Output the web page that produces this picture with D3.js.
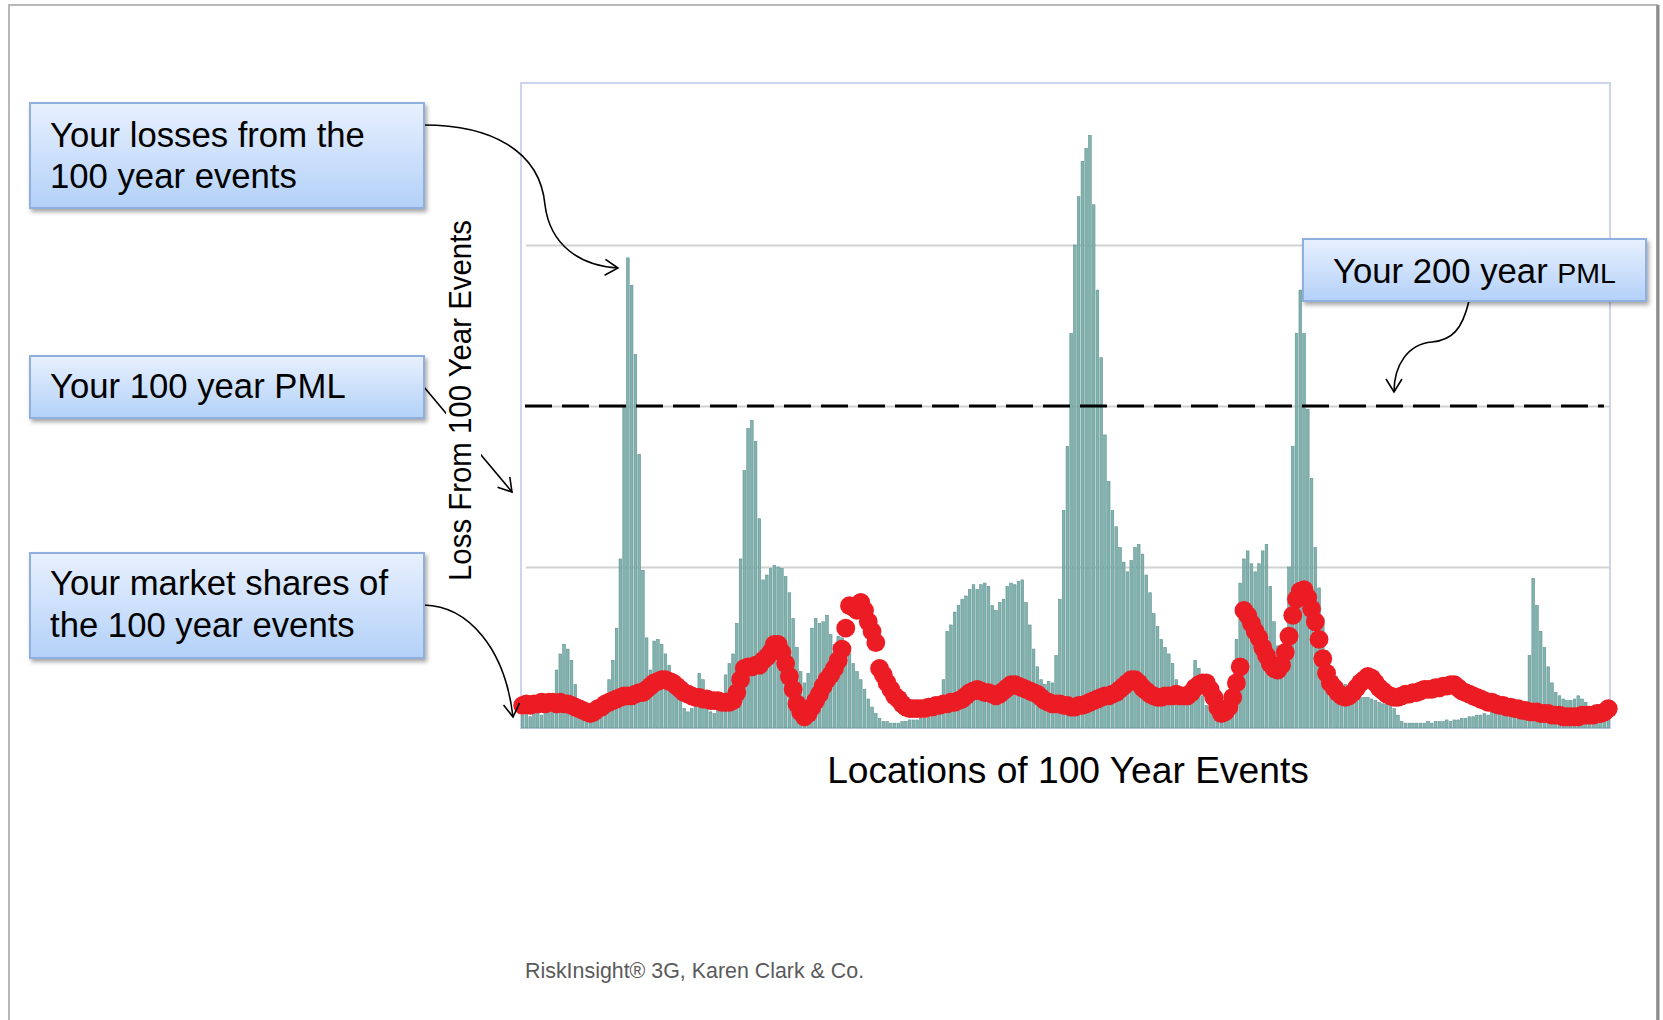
<!DOCTYPE html>
<html>
<head>
<meta charset="utf-8">
<script src="https://cdn.jsdelivr.net/npm/d3@7"></script>
<style>
  html, body { margin: 0; padding: 0; background: #ffffff; }
  svg { display: block; font-family: "Liberation Sans", Arial, sans-serif; }
</style>
</head>
<body>
<svg id="chart" width="1663" height="1020"></svg>
<script>
// Loss from each 100 year event, one value per event location (west to east)
const eventLoss = [
  0.08,0.10,0.07,0.09,0.11,0.08,0.10,0.12,0.15,
  0.36,0.46,0.52,0.49,0.42,0.27,0.16,
  0.08,0.07,0.06,0.08,0.10,0.12,0.15,
  0.30,0.42,0.62,1.05,2.00,2.92,2.75,2.32,1.70,0.98,0.56,
  0.36,0.54,0.55,0.52,0.46,0.39,0.34,0.27,0.18,0.12,0.10,0.12,0.20,0.34,0.30,0.12,
  0.10,0.09,0.12,0.18,
  0.33,0.40,0.46,0.65,1.05,1.60,1.86,1.91,1.78,1.30,0.92,0.95,
  0.99,1.01,1.00,0.99,0.94,0.84,0.68,0.50,0.35,0.28,0.34,
  0.62,0.68,0.65,0.66,0.70,0.58,0.52,0.57,0.56,0.52,0.46,0.40,0.35,0.30,0.24,0.18,0.13,0.09,0.06,
  0.04,0.04,0.03,0.03,0.03,0.04,0.04,0.05,0.05,0.05,0.06,0.06,0.07,0.07,0.08,0.10,
  0.30,0.60,0.64,0.72,0.76,0.80,0.82,0.86,0.89,0.86,0.89,0.90,0.88,0.76,0.73,0.78,0.80,
  0.88,0.90,0.89,0.91,0.92,0.78,0.64,0.49,0.38,0.30,0.27,0.29,0.28,0.45,0.80,1.35,
  1.75,2.45,3.00,3.30,3.52,3.60,3.68,3.25,2.72,2.30,1.82,1.53,1.35,1.25,1.12,1.03,0.97,
  1.04,1.12,1.14,1.08,0.95,0.84,0.71,0.63,0.55,0.50,0.46,0.40,0.30,0.23,0.20,0.22,0.20,
  0.42,0.37,0.20,0.14,0.12,0.10,0.10,0.09,0.10,0.12,0.20,0.55,0.90,1.05,1.10,
  1.02,0.97,1.02,1.10,1.14,0.88,0.66,0.51,0.47,0.62,1.00,1.75,2.45,2.72,2.45,1.98,1.55,
  1.12,0.87,0.68,0.48,0.36,0.32,0.30,0.28,0.27,0.24,0.23,0.21,0.19,0.19,0.19,0.18,0.17,
  0.16,0.15,0.15,0.14,0.12,0.08,0.04,
  0.03,0.03,0.03,0.03,0.03,0.03,0.04,0.03,0.04,0.04,0.04,0.05,0.04,0.05,0.05,0.06,
  0.06,0.07,0.07,0.08,0.08,0.09,0.08,0.10,0.09,0.10,0.11,0.10,0.11,0.12,0.11,0.12,
  0.14,0.45,0.93,0.76,0.60,0.50,0.38,0.28,0.22,0.20,0.18,0.17,0.17,0.18,0.20,0.18,
  0.16,0.12,0.11,0.10,0.10,0.10,0.09
];

// Company market share of each 100 year event, same locations, drawn on the loss scale
const marketShare = [
  0.14,0.15,0.14,0.15,0.15,0.16,0.15,0.16,0.16,0.15,
  0.16,0.15,0.15,0.14,0.13,0.12,0.11,0.10,0.09,0.10,
  0.12,0.13,0.15,0.16,0.17,0.18,0.19,0.20,0.20,0.20,
  0.21,0.22,0.22,0.24,0.26,0.28,0.29,0.30,0.30,0.29,
  0.28,0.26,0.24,0.22,0.21,0.20,0.19,0.19,0.18,0.18,
  0.17,0.17,0.17,0.16,0.16,0.16,0.17,0.22,0.30,0.37,
  0.38,0.38,0.39,0.39,0.42,0.44,0.47,0.52,0.52,0.47,
  0.40,0.32,0.24,0.15,0.10,0.07,0.09,0.13,0.17,0.21,
  0.26,0.30,0.33,0.37,0.42,0.49,0.62,0.76,0.75,0.73,
  0.78,0.73,0.66,0.60,0.53,0.37,0.33,0.28,0.24,0.20,
  0.18,0.15,0.13,0.12,0.12,0.12,0.12,0.12,0.13,0.13,
  0.14,0.14,0.15,0.15,0.16,0.16,0.17,0.18,0.20,0.22,
  0.23,0.24,0.23,0.22,0.22,0.21,0.20,0.21,0.23,0.25,
  0.27,0.27,0.26,0.25,0.24,0.23,0.22,0.21,0.19,0.17,
  0.16,0.15,0.15,0.15,0.14,0.14,0.13,0.13,0.14,0.14,
  0.15,0.16,0.17,0.18,0.19,0.20,0.20,0.21,0.22,0.24,
  0.26,0.28,0.30,0.30,0.28,0.25,0.23,0.21,0.20,0.19,
  0.19,0.20,0.20,0.20,0.21,0.20,0.20,0.20,0.22,0.25,
  0.27,0.28,0.28,0.24,0.19,0.13,0.09,0.10,0.13,0.19,
  0.28,0.38,0.73,0.70,0.65,0.60,0.56,0.50,0.45,0.40,
  0.37,0.36,0.39,0.47,0.57,0.70,0.80,0.85,0.86,0.81,
  0.74,0.66,0.55,0.43,0.34,0.28,0.25,0.22,0.20,0.19,
  0.20,0.22,0.25,0.28,0.30,0.32,0.31,0.28,0.25,0.23,
  0.21,0.20,0.19,0.19,0.20,0.21,0.21,0.22,0.22,0.23,
  0.24,0.24,0.24,0.25,0.25,0.26,0.26,0.27,0.27,0.25,
  0.23,0.22,0.21,0.20,0.19,0.18,0.17,0.16,0.16,0.15,
  0.14,0.14,0.13,0.13,0.12,0.12,0.11,0.11,0.10,0.10,
  0.10,0.09,0.09,0.09,0.08,0.08,0.08,0.07,0.07,0.07,
  0.07,0.07,0.08,0.08,0.08,0.08,0.09,0.09,0.10,0.12
];

// Event locations (categories along the x axis)
const eventLocations = eventLoss.map((d, i) => i);

// Reference levels on the loss scale
const gridValues = [1, 2, 3];
const pml100 = 1.335;
const pml200 = 2.0;

// Texts
const calloutLosses = ["Your losses from the", "100 year events"];
const callout100 = ["Your 100 year PML"];
const calloutShares = ["Your market shares of", "the 100 year events"];
const callout200Main = "Your 200 year ";
const callout200Small = "PML";
const yTitle = "Loss From 100 Year Events";
const xTitle = "Locations of 100 Year Events";
const sourceNote = "RiskInsight\u00AE 3G, Karen Clark & Co.";

// ---- layout ----
const plot = { left: 521, right: 1610, top: 83, bottom: 728 };
const unitPx = 161;

const svg = d3.select("#chart");
const defs = svg.append("defs");

const grad = defs.append("linearGradient")
  .attr("id", "calloutFill").attr("x1", 0).attr("y1", 0).attr("x2", 0).attr("y2", 1);
grad.append("stop").attr("offset", "0%").attr("stop-color", "#e8f0fe");
grad.append("stop").attr("offset", "100%").attr("stop-color", "#b3d1f8");

const shadow = defs.append("filter").attr("id", "calloutShadow")
  .attr("x", "-10%").attr("y", "-20%").attr("width", "125%").attr("height", "150%");
shadow.append("feDropShadow").attr("dx", 2).attr("dy", 3).attr("stdDeviation", 2)
  .attr("flood-color", "#000").attr("flood-opacity", 0.35);

const soft = defs.append("filter").attr("id", "softLine")
  .attr("x", "-1%").attr("y", "-200%").attr("width", "102%").attr("height", "500%");
soft.append("feGaussianBlur").attr("stdDeviation", 0.7);

defs.append("marker").attr("id", "openArrow")
  .attr("viewBox", "-14 -9 16 18").attr("refX", 0).attr("refY", 0)
  .attr("markerWidth", 16).attr("markerHeight", 18)
  .attr("markerUnits", "userSpaceOnUse").attr("orient", "auto")
  .append("path").attr("d", "M-13,-8 L0,0 L-13,8")
  .attr("fill", "none").attr("stroke", "#000").attr("stroke-width", 1.6);

// page frame
svg.append("path")
  .attr("d", "M9,1020 V5 H1657 V1020")
  .attr("fill", "none").attr("stroke", "#b8b8b8").attr("stroke-width", 2);
svg.append("line").attr("x1", 1658).attr("x2", 1658).attr("y1", 5).attr("y2", 1020)
  .attr("stroke", "#8c8c8c").attr("stroke-width", 3);

// ---- scales ----
const x = d3.scaleBand()
  .domain(eventLocations)
  .range([plot.left, plot.right])
  .paddingInner(0.3).paddingOuter(0.1);

const y = d3.scaleLinear()
  .domain([0, 4])
  .range([plot.bottom, plot.bottom - 4 * unitPx]);

// plot frame
svg.append("rect")
  .attr("x", plot.left).attr("y", plot.top)
  .attr("width", plot.right - plot.left).attr("height", plot.bottom - plot.top)
  .attr("fill", "#ffffff").attr("stroke", "#ccd4ee").attr("stroke-width", 2);

// gridlines
const grid = svg.append("g")
  .attr("transform", `translate(${plot.right},0)`)
  .call(d3.axisLeft(y).tickValues(gridValues).tickSize(plot.right - plot.left - 5).tickFormat(""));
grid.select(".domain").remove();
grid.selectAll(".tick line").attr("stroke", "#d2d2d2").attr("stroke-width", 2.2);

// loss bars
svg.append("g").selectAll("rect")
  .data(eventLoss)
  .join("rect")
  .attr("x", (d, i) => x(eventLocations[i]))
  .attr("y", d => y(d))
  .attr("width", x.bandwidth())
  .attr("height", d => y(0) - y(d))
  .attr("fill", "#82b3b0")
  .attr("stroke", "#5e928e")
  .attr("stroke-width", 0.6);

// PML levels
svg.append("line")
  .attr("x1", plot.left + 4).attr("x2", plot.right - 6)
  .attr("y1", y(pml200)).attr("y2", y(pml200))
  .attr("stroke", "#000").attr("stroke-width", 3.2)
  .attr("stroke-dasharray", "27,10");

svg.append("line")
  .attr("x1", plot.left).attr("x2", plot.right)
  .attr("y1", y(pml100)).attr("y2", y(pml100))
  .attr("stroke", "#1c1c1c").attr("stroke-width", 3.6)
  .attr("filter", "url(#softLine)");

// market share dots
svg.append("g").selectAll("circle")
  .data(marketShare)
  .join("circle")
  .attr("cx", (d, i) => x(eventLocations[i]) + x.bandwidth() / 2)
  .attr("cy", d => y(d))
  .attr("r", 9.4)
  .attr("fill", "#ec1c24");

// ---- connectors ----
const connectors = svg.append("g")
  .attr("fill", "none").attr("stroke", "#000").attr("stroke-width", 1.6);
connectors.append("path")
  .attr("d", "M424,125 C490,125 540,150 545,205 C550,245 580,266 618,268")
  .attr("marker-end", "url(#openArrow)");
connectors.append("path")
  .attr("d", "M424,387 L512,492")
  .attr("marker-end", "url(#openArrow)");
connectors.append("path")
  .attr("d", "M424,605 C468,606 505,648 513,717")
  .attr("marker-end", "url(#openArrow)");
connectors.append("path")
  .attr("d", "M1469,301 C1462,330 1452,340 1432,342 C1408,344 1394,365 1394,392")
  .attr("marker-end", "url(#openArrow)");

// y axis title on a white backing
svg.append("rect").attr("x", 446).attr("y", 214).attr("width", 35).attr("height", 373)
  .attr("fill", "#ffffff");
svg.append("text")
  .attr("transform", "translate(471,400.5) rotate(-90)")
  .attr("text-anchor", "middle")
  .attr("font-size", 32)
  .attr("textLength", 361).attr("lengthAdjust", "spacingAndGlyphs")
  .attr("fill", "#000")
  .text(yTitle);

// x axis title
svg.append("text")
  .attr("x", 1068).attr("y", 783)
  .attr("text-anchor", "middle")
  .attr("font-size", 37.2)
  .attr("fill", "#000")
  .text(xTitle);

// source note
svg.append("text")
  .attr("x", 525).attr("y", 978)
  .attr("font-size", 21.4)
  .attr("fill", "#5a5a5a")
  .text(sourceNote);

// ---- callouts ----
function callout(bx, by, bw, bh) {
  const g = svg.append("g");
  g.append("rect")
    .attr("x", bx).attr("y", by).attr("width", bw).attr("height", bh)
    .attr("fill", "url(#calloutFill)")
    .attr("stroke", "#8fb0df").attr("stroke-width", 2)
    .attr("filter", "url(#calloutShadow)");
  return g;
}
function calloutLines(g, tx, baselines, lines) {
  g.selectAll("text.line")
    .data(lines)
    .join("text")
    .attr("class", "line")
    .attr("x", tx)
    .attr("y", (d, i) => baselines[i])
    .attr("font-size", 34.7)
    .attr("fill", "#000")
    .text(d => d);
}

calloutLines(callout(30, 103, 394, 105), 50, [147, 188], calloutLosses);
calloutLines(callout(30, 356, 394, 62), 50, [398], callout100);
calloutLines(callout(30, 553, 394, 105), 50, [595, 637], calloutShares);

const box200 = callout(1303, 239, 343, 62);
const t200 = box200.append("text")
  .attr("x", 1333).attr("y", 283)
  .attr("font-size", 34.7).attr("fill", "#000");
t200.append("tspan").text(callout200Main);
t200.append("tspan").attr("font-size", 28.5).text(callout200Small);
</script>
</body>
</html>
